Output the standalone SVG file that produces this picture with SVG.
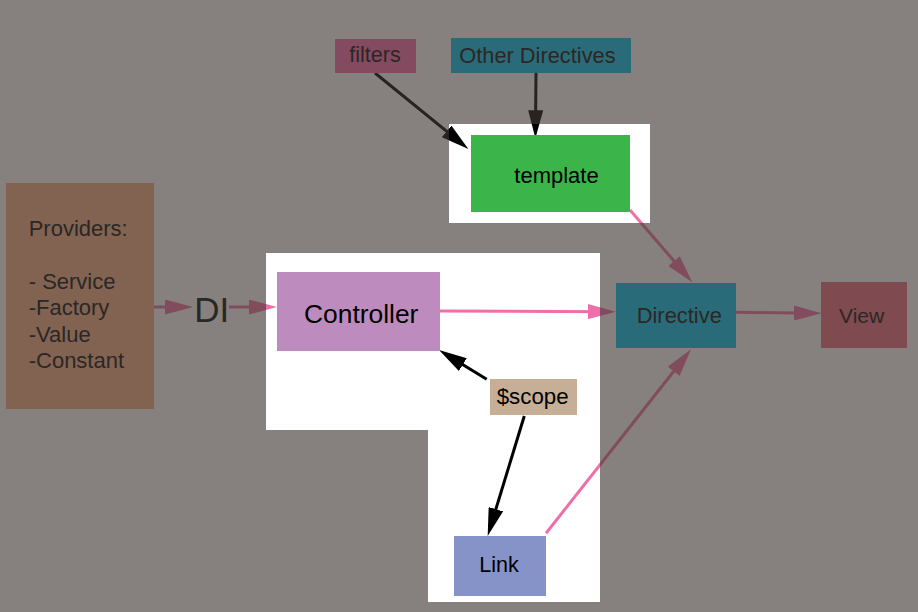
<svg xmlns="http://www.w3.org/2000/svg" width="918" height="612" viewBox="0 0 918 612">
  <style>
    text { font-family: "Liberation Sans", Arial, sans-serif; }
    .dim { fill: #2b2725; }
    .lit { fill: #000000; }
    .pink { stroke: #ef6fa8; stroke-width: 3; fill: none; }
    .blk { stroke: #000000; stroke-width: 3; fill: none; }
  </style>
  <defs>
    <marker id="ahPink" markerUnits="userSpaceOnUse" markerWidth="28" markerHeight="15" refX="18" refY="7.5" orient="auto" viewBox="0 0 28 15">
      <path d="M0,0 L28,7.5 L0,15 Z" fill="#ef6fa8"/>
    </marker>
    <marker id="ahBlk" markerUnits="userSpaceOnUse" markerWidth="28" markerHeight="15" refX="18" refY="7.5" orient="auto" viewBox="0 0 28 15">
      <path d="M0,0 L28,7.5 L0,15 Z" fill="#000000"/>
    </marker>
  </defs>

  <rect id="background" x="0" y="0" width="918" height="612" fill="#ffffff"/>

  <g id="connectors">
    <line class="blk" x1="375" y1="73" x2="460.6" y2="142.7" marker-end="url(#ahBlk)"/>
    <line class="blk" x1="536" y1="73" x2="535.5" y2="128.3" marker-end="url(#ahBlk)"/>
    <line class="pink" x1="154" y1="307" x2="183" y2="307" marker-end="url(#ahPink)"/>
    <line class="pink" x1="229" y1="307" x2="267" y2="307" marker-end="url(#ahPink)"/>
    <line class="pink" x1="440" y1="311" x2="606" y2="311.7" marker-end="url(#ahPink)"/>
    <line class="pink" x1="736" y1="312.3" x2="811.7" y2="313.2" marker-end="url(#ahPink)"/>
    <line class="pink" x1="630" y1="210" x2="685.8" y2="274.7" marker-end="url(#ahPink)"/>
    <line class="pink" x1="546" y1="533.3" x2="684.8" y2="357.2" marker-end="url(#ahPink)"/>
    <line class="blk" x1="486.7" y1="379.3" x2="447.5" y2="355.2" marker-end="url(#ahBlk)"/>
    <line class="blk" x1="524.3" y1="416" x2="490.6" y2="526.4" marker-end="url(#ahBlk)"/>
  </g>

  <path id="dim-overlay" fill="#3f3732" fill-opacity="0.63" fill-rule="evenodd"
        d="M0,0H918V612H0Z M449,124H650V223H449Z M266,253H600V602H428V430H266Z"/>

  <g id="filters">
    <rect x="335" y="39" width="81" height="34" fill="#834a60"/>
    <text class="dim" x="349.3" y="62" style="font-size:21.5px">filters</text>
  </g>
  <g id="other-directives">
    <rect x="451" y="38" width="180" height="35" fill="#2a6b7a"/>
    <text class="dim" x="459.3" y="63" style="font-size:21.8px">Other Directives</text>
  </g>
  <g id="template">
    <rect x="471" y="135" width="159" height="77" fill="#3bb54a"/>
    <text class="lit" x="514.3" y="183" style="font-size:22px">template</text>
  </g>
  <g id="providers" style="font-size:22px">
    <rect x="6" y="183" width="148" height="226" fill="#826352"/>
    <text class="dim" x="28.7" y="236">Providers:</text>
    <text class="dim" x="28.7" y="288.5">- Service</text>
    <text class="dim" x="28.7" y="315">-Factory</text>
    <text class="dim" x="28.7" y="341.5">-Value</text>
    <text class="dim" x="28.7" y="368">-Constant</text>
  </g>
  <g id="di">
    <text class="dim" x="194.3" y="321.7" style="font-size:35px">DI</text>
  </g>
  <g id="controller">
    <rect x="277" y="272" width="163" height="79" fill="#bd8bbd"/>
    <text class="lit" x="304" y="322.7" style="font-size:26.4px">Controller</text>
  </g>
  <g id="directive">
    <rect x="616" y="283" width="120" height="65" fill="#2a6b7a"/>
    <text class="dim" x="636.7" y="322.7" style="font-size:21.9px">Directive</text>
  </g>
  <g id="view">
    <rect x="821" y="282" width="86" height="66" fill="#7f4a50"/>
    <text class="dim" x="839" y="322.7" style="font-size:21px">View</text>
  </g>
  <g id="scope">
    <rect x="490" y="379" width="87" height="36" fill="#c6af96"/>
    <text class="lit" x="496.7" y="404" style="font-size:22.3px">$scope</text>
  </g>
  <g id="link">
    <rect x="454" y="536" width="92" height="60" fill="#8593c8"/>
    <text class="lit" x="479.3" y="572" style="font-size:21.6px">Link</text>
  </g>
</svg>
